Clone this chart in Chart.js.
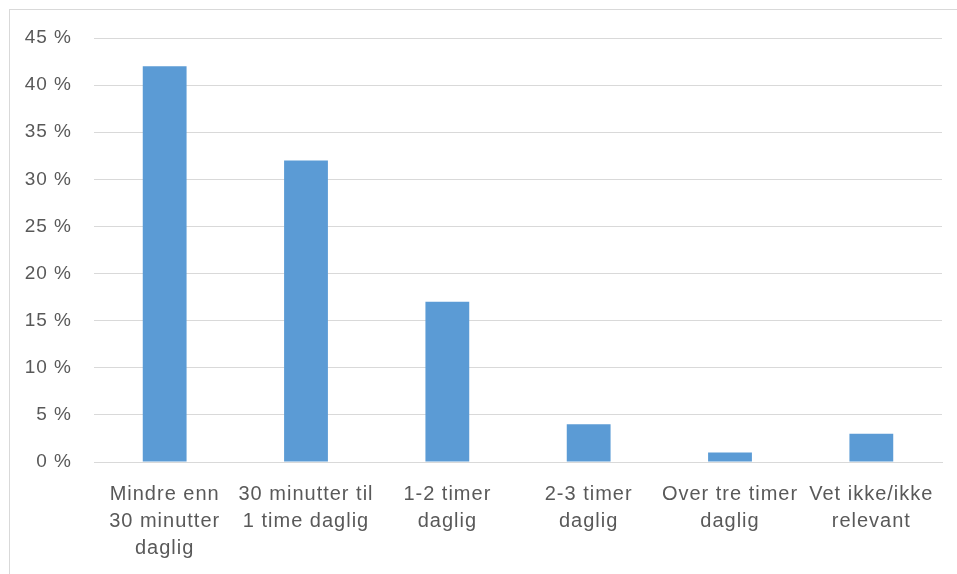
<!DOCTYPE html>
<html>
<head>
<meta charset="utf-8">
<script src="https://cdn.jsdelivr.net/npm/chart.js@4/dist/chart.umd.min.js"></script>
<style>
  html, body { margin: 0; padding: 0; background: #fff; }
  #wrap { position: relative; width: 957px; height: 574px; }
  #frame { position: absolute; left: 9px; top: 9px; right: 0; bottom: 0;
           border-left: 1px solid #d9d9d9; border-top: 1px solid #d9d9d9; pointer-events: none; }
  canvas { position: absolute; left: 0; top: 0; }
</style>
</head>
<body>
<div id="wrap">
  <canvas id="c" width="957" height="574"></canvas>
  <div id="frame"></div>
</div>
<script>
// Daily time spent, share of respondents (percent)
const categories = [
  ['Mindre enn', '30 minutter', 'daglig'],
  ['30 minutter til', '1 time daglig'],
  ['1-2 timer', 'daglig'],
  ['2-3 timer', 'daglig'],
  ['Over tre timer', 'daglig'],
  ['Vet ikke/ikke', 'relevant']
];
const shares = [42, 32, 17, 4, 1, 3];
const yTicks = [0, 5, 10, 15, 20, 25, 30, 35, 40, 45];

const textColor = '#595959';
const gridColor = '#d9d9d9';
const fontFamily = '"Liberation Sans", Arial, sans-serif';

// Slightly wider tracking for all axis text
const letterSpacingPlugin = {
  id: 'letterSpacing',
  beforeUpdate(chart) { chart.ctx.letterSpacing = '1px'; },
  beforeDraw(chart) { chart.ctx.letterSpacing = '1px'; }
};

new Chart(document.getElementById('c'), {
  type: 'bar',
  data: {
    labels: categories,
    datasets: [{
      data: shares,
      backgroundColor: '#5b9bd5',
      borderWidth: 0,
      categoryPercentage: 1,
      barPercentage: 0.31
    }]
  },
  plugins: [letterSpacingPlugin],
  options: {
    responsive: false,
    animation: false,
    layout: { padding: { top: 38, right: 15, bottom: 0, left: 0 } },
    plugins: { legend: { display: false }, tooltip: { enabled: false } },
    scales: {
      x: {
        grid: { display: false, drawTicks: false },
        border: { display: true, color: gridColor, width: 1 },
        ticks: {
          color: textColor,
          font: { family: fontFamily, size: 20, lineHeight: 1.35 },
          padding: 19,
          maxRotation: 0,
          autoSkip: false
        },
        afterFit(scale) { scale.height = 112; }
      },
      y: {
        min: 0,
        max: 45,
        afterBuildTicks(scale) { scale.ticks = yTicks.map(v => ({ value: v })); },
        grid: { color: gridColor, lineWidth: 1, drawTicks: false },
        border: { display: false },
        ticks: {
          color: textColor,
          font: { family: fontFamily, size: 19 },
          padding: 22,
          callback: v => v + ' %'
        },
        afterFit(scale) { scale.width = 94; }
      }
    }
  }
});
</script>
</body>
</html>
